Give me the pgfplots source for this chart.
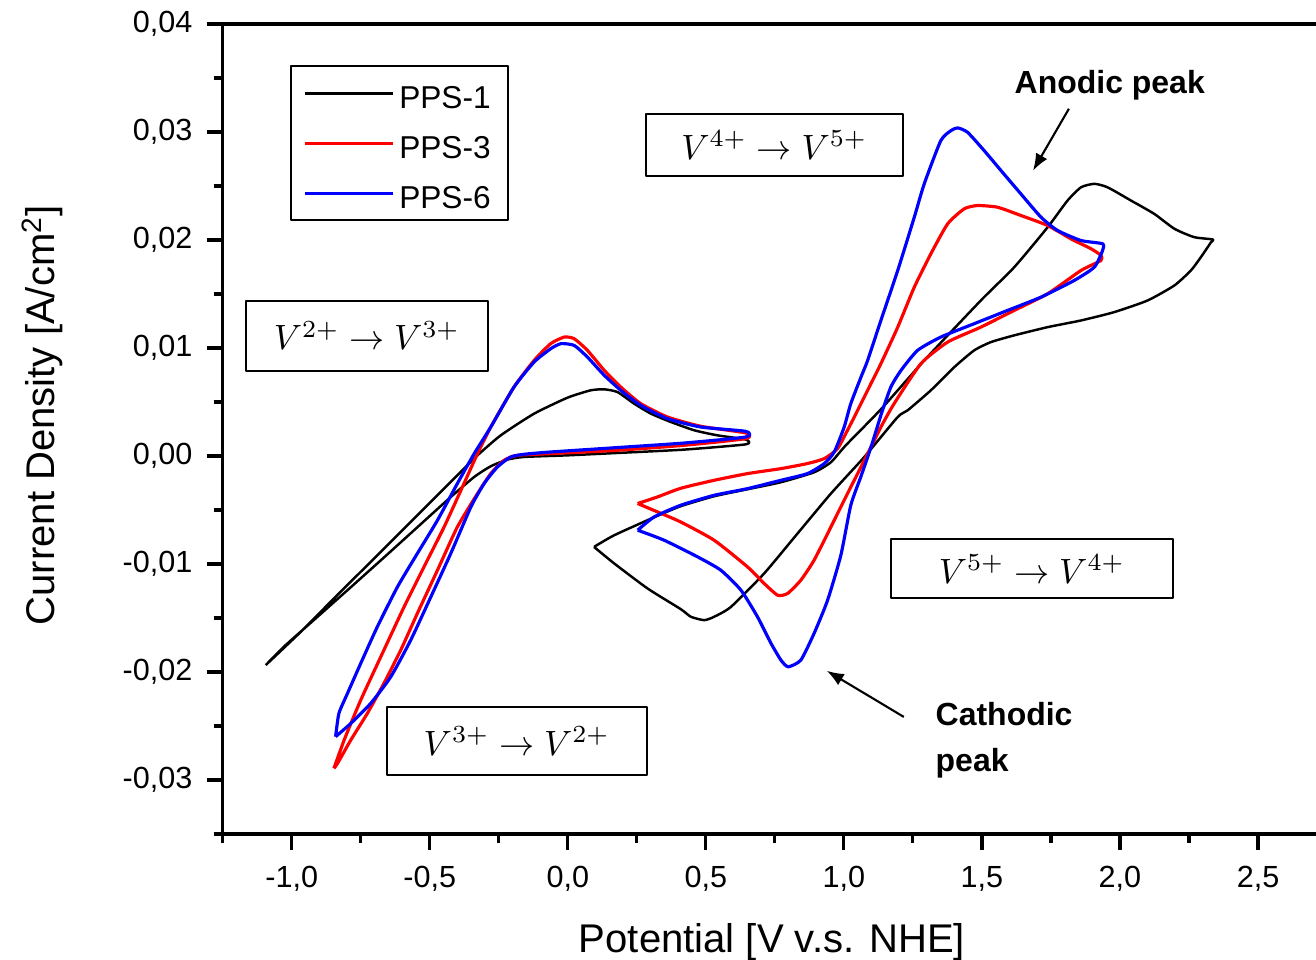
\documentclass[border=0pt]{standalone}
\usepackage{pgfplots}
\pgfplotsset{compat=1.18}
\usepackage{fontspec}
\setmainfont{Liberation Sans}
\usetikzlibrary{arrows.meta,calc}

\newcommand{\mathfont}{\fontsize{10.3}{12}\selectfont}
\newcommand{\notefont}{\bfseries\fontsize{9.1}{11}\selectfont}
\newcommand{\labelfont}{\fontsize{11.4}{13}\selectfont}

\begin{document}
\begin{tikzpicture}
\begin{axis}[
    scale only axis,
    width=10.933cm, height=8.10cm,
    xmin=-1.25, xmax=2.71,
    ymin=-0.035, ymax=0.04,
    clip=false,
    axis x line*=bottom, axis y line*=left,
    axis line style={line width=0.9pt},
    tick align=outside,
    major tick length=0.16cm, minor tick length=0.09cm,
    tick style={black, line width=0.9pt},
    xtick={-1,-0.5,0,0.5,1,1.5,2,2.5},
    xticklabels={{-1,0},{-0,5},{0,0},{0,5},{1,0},{1,5},{2,0},{2,5}},
    minor xtick={-1.25,-0.75,-0.25,0.25,0.75,1.25,1.75,2.25},
    ytick={-0.03,-0.02,-0.01,0,0.01,0.02,0.03,0.04},
    yticklabels={{-0,03},{-0,02},{-0,01},{0,00},{0,01},{0,02},{0,03},{0,04}},
    minor ytick={-0.035,-0.025,-0.015,-0.005,0.005,0.015,0.025,0.035},
    tick label style={font=\fontsize{8.7}{10}\selectfont},
    yticklabel style={xshift=-0.02cm},
    xticklabel style={yshift=-0.04cm},
    xlabel={Potential [V v.s. NHE]},
    ylabel={Current Density [A/cm\textsuperscript{2}]},
    every axis x label/.style={at={(axis description cs:0.5024,-0.1457)}, anchor=base, font=\labelfont},
    every axis y label/.style={at={(axis description cs:-0.1534,0.517)}, rotate=90, anchor=base, font=\labelfont},
    legend style={at={(axis description cs:0.0616,0.949)}, anchor=north west,
        draw=black, line width=0.6pt, font=\fontsize{9}{10}\selectfont,
        inner xsep=0.12cm, inner ysep=0.02cm, row sep=0pt,
        nodes={inner xsep=0.05cm, inner ysep=0.1cm, text height=0.30cm, text depth=0cm}},
    legend image code/.code={\draw[#1] (0cm,0cm) -- (0.88cm,0cm);},
    legend cell align=left,
    line join=round,
    every axis plot/.append style={smooth, tension=0.35},
]

% PPS-1, V2+/V3+ loop
\addplot[black, line width=0.7pt] coordinates {
(-1.094,-0.01936) (-0.967,-0.01628) (-0.847,-0.01319) (-0.726,-0.01011) (-0.605,-0.00703)
(-0.484,-0.00394) (-0.400,-0.00179) (-0.327,0.00006) (-0.243,0.00191) (-0.122,0.00392)
(-0.001,0.00540) (0.083,0.00608) (0.132,0.00617) (0.180,0.00592) (0.240,0.00485)
(0.301,0.00392) (0.373,0.00315) (0.458,0.00238) (0.542,0.00191) (0.645,0.00152)
(0.645,0.00108) (0.421,0.00059) (0.180,0.00028) (-0.001,0.00006) (-0.158,-0.00009)
(-0.218,-0.00033) (-0.279,-0.00095) (-0.339,-0.00194) (-0.424,-0.00380) (-0.545,-0.00660)
(-0.666,-0.00940) (-0.786,-0.01215) (-0.907,-0.01490) (-1.028,-0.01765) (-1.094,-0.01936)
};
\addlegendentry{PPS-1}
% PPS-1, V4+/V5+ loop
\addplot[black, line width=0.7pt, forget plot] coordinates {
(0.095,-0.00842) (0.168,-0.00734) (0.313,-0.00567) (0.409,-0.00465) (0.530,-0.00373)
(0.651,-0.00308) (0.772,-0.00243) (0.892,-0.00151) (0.953,-0.00058) (1.007,0.00099)
(1.134,0.00432) (1.291,0.00885) (1.496,0.01440) (1.617,0.01748) (1.738,0.02118)
(1.810,0.02365) (1.859,0.02488) (1.907,0.02520) (1.955,0.02488) (2.040,0.02365)
(2.124,0.02242) (2.197,0.02104) (2.269,0.02026) (2.337,0.02005)
(2.330,0.01980) (2.293,0.01841) (2.257,0.01718) (2.197,0.01579) (2.100,0.01440)
(1.979,0.01332) (1.859,0.01255) (1.738,0.01193) (1.617,0.01117) (1.533,0.01055)
(1.472,0.00978) (1.400,0.00823) (1.315,0.00608) (1.231,0.00423) (1.195,0.00361)
(1.074,-0.00009) (0.953,-0.00348) (0.832,-0.00718) (0.711,-0.01088) (0.591,-0.01397)
(0.530,-0.01489) (0.494,-0.01520) (0.446,-0.01489) (0.409,-0.01418) (0.289,-0.01227)
(0.168,-0.00995) (0.095,-0.00842)
};

% PPS-3
\addplot[red, line width=0.9pt] coordinates {
(-0.847,-0.02892) (-0.810,-0.02630) (-0.750,-0.02260) (-0.666,-0.01797) (-0.593,-0.01397)
(-0.521,-0.01027) (-0.448,-0.00657) (-0.376,-0.00255) (-0.327,0.00022) (-0.279,0.00268)
(-0.195,0.00638) (-0.122,0.00885) (-0.062,0.01040) (-0.013,0.01101) (0.023,0.01086)
(0.071,0.00978) (0.132,0.00793) (0.192,0.00638) (0.264,0.00485) (0.361,0.00361)
(0.482,0.00275) (0.645,0.00213)
(0.645,0.00161) (0.421,0.00099) (0.180,0.00053) (-0.062,0.00022) (-0.182,0.00006)
(-0.231,-0.00040) (-0.279,-0.00163) (-0.327,-0.00348) (-0.400,-0.00657) (-0.472,-0.01057)
(-0.545,-0.01458) (-0.605,-0.01797) (-0.666,-0.02105) (-0.726,-0.02383) (-0.786,-0.02630)
(-0.834,-0.02846) (-0.847,-0.02892)
};
\addlegendentry{PPS-3}
\addplot[red, line width=0.9pt, forget plot] coordinates {
(0.253,-0.00440) (0.325,-0.00379) (0.409,-0.00299) (0.530,-0.00225) (0.651,-0.00163)
(0.772,-0.00117) (0.868,-0.00070) (0.929,-0.00024) (0.977,0.00068) (1.013,0.00238)
(1.050,0.00423) (1.098,0.00670) (1.134,0.00855) (1.195,0.01193) (1.255,0.01563)
(1.315,0.01872) (1.376,0.02150) (1.436,0.02289) (1.484,0.02319) (1.557,0.02303)
(1.641,0.02227) (1.738,0.02134) (1.822,0.02011) (1.895,0.01919) (1.931,0.01857)
(1.931,0.01810) (1.859,0.01718) (1.738,0.01502) (1.617,0.01348) (1.496,0.01193)
(1.376,0.01055) (1.279,0.00855) (1.182,0.00485) (1.134,0.00268) (1.098,0.00083)
(1.062,-0.00102) (1.013,-0.00348) (0.953,-0.00657) (0.892,-0.00965) (0.844,-0.01150)
(0.796,-0.01273) (0.760,-0.01289) (0.711,-0.01180) (0.651,-0.01027) (0.530,-0.00780)
(0.409,-0.00611) (0.325,-0.00518) (0.253,-0.00440)
};

% PPS-6
\addplot[blue, line width=0.9pt] coordinates {
(-0.841,-0.02599) (-0.829,-0.02383) (-0.798,-0.02198) (-0.750,-0.01920) (-0.690,-0.01582)
(-0.617,-0.01212) (-0.545,-0.00903) (-0.472,-0.00595) (-0.400,-0.00255) (-0.339,0.00022)
(-0.279,0.00268) (-0.195,0.00638) (-0.122,0.00870) (-0.062,0.00993) (-0.025,0.01040)
(0.023,0.01024) (0.071,0.00916) (0.132,0.00747) (0.192,0.00608) (0.264,0.00469)
(0.361,0.00346) (0.482,0.00268) (0.645,0.00228)
(0.645,0.00176) (0.421,0.00120) (0.180,0.00078) (-0.062,0.00037) (-0.158,0.00016)
(-0.207,-0.00009) (-0.255,-0.00102) (-0.303,-0.00255) (-0.351,-0.00472) (-0.424,-0.00903)
(-0.496,-0.01304) (-0.569,-0.01705) (-0.641,-0.02044) (-0.714,-0.02291) (-0.786,-0.02476)
(-0.841,-0.02599)
};
\addlegendentry{PPS-6}
\addplot[blue, line width=0.9pt, forget plot] coordinates {
(0.253,-0.00687) (0.313,-0.00564) (0.409,-0.00456) (0.530,-0.00364) (0.651,-0.00302)
(0.772,-0.00225) (0.868,-0.00163) (0.929,-0.00070) (0.965,0.00037) (1.001,0.00268)
(1.025,0.00485) (1.062,0.00731) (1.086,0.00885) (1.134,0.01255) (1.195,0.01718)
(1.255,0.02211) (1.291,0.02520) (1.351,0.02920) (1.388,0.03013) (1.412,0.03038)
(1.448,0.02997) (1.508,0.02828) (1.569,0.02643) (1.641,0.02427) (1.714,0.02211)
(1.774,0.02088) (1.859,0.01995) (1.937,0.01965)
(1.937,0.01903) (1.907,0.01748) (1.834,0.01625) (1.714,0.01471) (1.593,0.01348)
(1.472,0.01225) (1.351,0.01101) (1.267,0.00978) (1.207,0.00793) (1.170,0.00638)
(1.134,0.00377) (1.098,0.00080) (1.062,-0.00188) (1.025,-0.00456) (0.989,-0.00919)
(0.941,-0.01335) (0.892,-0.01643) (0.844,-0.01890) (0.798,-0.01952) (0.772,-0.01890)
(0.736,-0.01735) (0.687,-0.01489) (0.627,-0.01242) (0.554,-0.01057) (0.470,-0.00934)
(0.349,-0.00780) (0.253,-0.00687)
};

% redox labels
\node[draw, line width=0.6pt, minimum width=2.42cm, minimum height=0.70cm, inner sep=0pt, font=\mathfont]
  at (axis cs:-0.728,0.01115) {$V^{2+}\rightarrow V^{3+}$};
\node[draw, line width=0.6pt, minimum width=2.57cm, minimum height=0.62cm, inner sep=0pt, font=\mathfont]
  at (axis cs:0.748,0.02882) {$V^{4+}\rightarrow V^{5+}$};
\node[draw, line width=0.6pt, minimum width=2.60cm, minimum height=0.68cm, inner sep=0pt, font=\mathfont]
  at (axis cs:-0.185,-0.02641) {$V^{3+}\rightarrow V^{2+}$};
\node[draw, line width=0.6pt, minimum width=2.82cm, minimum height=0.59cm, inner sep=0pt, font=\mathfont]
  at (axis cs:1.681,-0.01045) {$V^{5+}\rightarrow V^{4+}$};

% peak notes
\node[anchor=base west, inner sep=0pt, font=\notefont] at (axis cs:1.616,0.03355) {Anodic peak};
\draw[-{Latex[length=0.17cm,width=0.13cm]}, line width=0.6pt]
  (axis cs:1.815,0.03215) -- (axis cs:1.685,0.02642);
\node[anchor=base west, inner sep=0pt, font=\notefont] at (axis cs:1.330,-0.02500) {Cathodic};
\node[anchor=base west, inner sep=0pt, font=\notefont] at (axis cs:1.330,-0.02917) {peak};
\draw[-{Latex[length=0.17cm,width=0.13cm]}, line width=0.6pt]
  (axis cs:1.217,-0.02416) -- (axis cs:0.938,-0.01989);
\end{axis}

% top frame line (the right one is cut off in the original)
\draw[line width=0.9pt] (current axis.north west) -- (current axis.north east);
\pgfresetboundingbox
\useasboundingbox ($(current axis.south west)+(-2.227cm,-1.26cm)$) rectangle ($(current axis.north east)+(0,0.24cm)$);
\end{tikzpicture}
\end{document}
